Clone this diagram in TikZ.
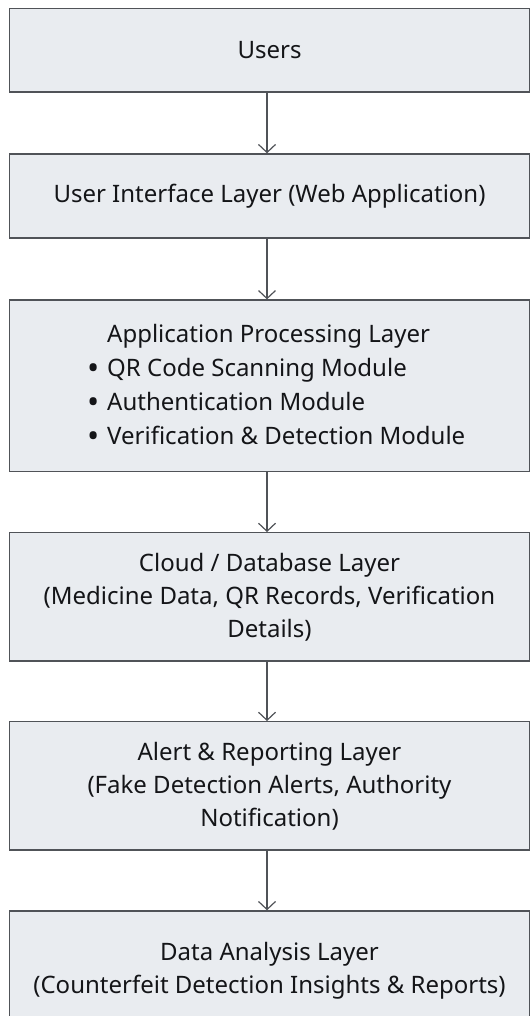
\documentclass[tikz,border=0pt]{standalone}
\usepackage{fontspec}
\setmainfont{Noto Sans}
\usetikzlibrary{arrows.meta}
\definecolor{boxfill}{HTML}{E9ECF0}
\definecolor{edge}{HTML}{505358}
\definecolor{ink}{HTML}{141518}
\newcommand{\itemdot}{\makebox[20pt][l]{\hspace{0.5pt}\raisebox{-2.6pt}{\scalebox{1.35}{•}}}}
\begin{document}
\begin{tikzpicture}[x=1pt,y=-1pt,
  layer/.style={draw=edge, line width=1.4pt, fill=boxfill, minimum width=520pt,
    inner sep=0pt, text=ink, font=\fontsize{24}{33}\selectfont, align=center},
  body/.style={inner sep=0pt, text=ink, font=\fontsize{24}{34}\selectfont},
  flow/.style={draw=edge, line width=1.4pt,
    -{Straight Barb[length=8pt,width=17pt,line width=1.2pt]}}]
\useasboundingbox (0,0) rectangle (532,1016);
\coordinate (ax) at (267,0);

% layers, top to bottom
\node[layer, minimum height=83.7pt] (users) at (269.5,50.2) {Users};
\node[layer, minimum height=84pt] (ui) at (269.5,196) {User Interface Layer (Web Application)};
\node[layer, minimum height=171.5pt] (app) at (269.5,385.8) {};
\node[body, anchor=west, align=left] (apptext) at (87,385.8)
  {\hspace*{20pt}Application Processing Layer\\
   \itemdot QR Code Scanning Module\\
   \itemdot Authentication Module\\
   \itemdot Verification \& Detection Module};
\node[layer, minimum height=128.3pt] (cloud) at (269.5,596.9)
  {Cloud / Database Layer\\(Medicine Data, QR Records, Verification\\Details)};
\node[layer, minimum height=128.3pt] (alert) at (269.5,785.9)
  {Alert \& Reporting Layer\\(Fake Detection Alerts, Authority\\Notification)};
\node[layer, minimum height=119pt] (analysis) at (269.5,970.5)
  {Data Analysis Layer\\(Counterfeit Detection Insights \& Reports)};

% connectors
\draw[flow] (users.south -| ax) -- (ui.north -| ax);
\draw[flow] (ui.south -| ax) -- (app.north -| ax);
\draw[flow] (app.south -| ax) -- (cloud.north -| ax);
\draw[flow] (cloud.south -| ax) -- (alert.north -| ax);
\draw[flow] (alert.south -| ax) -- (analysis.north -| ax);
\end{tikzpicture}
\end{document}
